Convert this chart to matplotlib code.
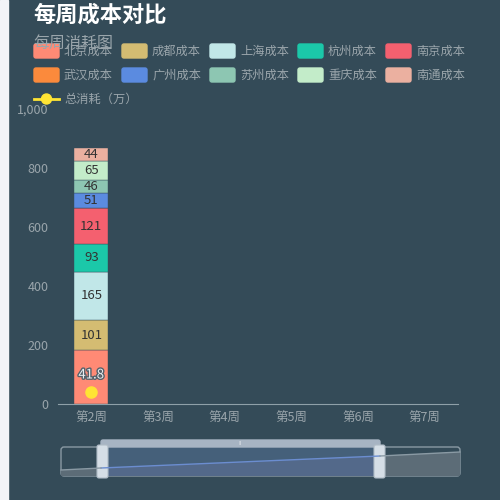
import numpy as np
import matplotlib
matplotlib.use("Agg")
from matplotlib import pyplot as plt
from matplotlib.patches import Rectangle, FancyBboxPatch, Circle, Polygon
from matplotlib.lines import Line2D
import matplotlib.patheffects as pe

plt.rcParams['font.family'] = ['Noto Sans CJK SC', 'DejaVu Sans']

# données
semaines = ["第2周", "第3周", "第4周", "第5周", "第6周", "第7周"]
nan = np.nan
villes = ["北京成本", "成都成本", "上海成本", "杭州成本", "南京成本",
          "武汉成本", "广州成本", "苏州成本", "重庆成本", "南通成本"]
beijing = [183, nan, nan, nan, nan, nan]
chengdu = [101, nan, nan, nan, nan, nan]
shanghai = [165, nan, nan, nan, nan, nan]
hangzhou = [93, nan, nan, nan, nan, nan]
nanjing = [121, nan, nan, nan, nan, nan]
wuhan = [0, nan, nan, nan, nan, nan]
guangzhou = [51, nan, nan, nan, nan, nan]
suzhou = [46, nan, nan, nan, nan, nan]
chongqing = [65, nan, nan, nan, nan, nan]
nantong = [44, nan, nan, nan, nan, nan]
total = [41.8, nan, nan, nan, nan, nan]

couleurs = ["#ff8a75", "#d4bc72", "#c1e7e8", "#1bc8a9", "#f4606f",
            "#fb8a3c", "#5b8be0", "#8dc6b2", "#c3ecc9", "#ebb0a0"]
fond = "#344b58"
gris = "#9aa5ab"

series = [beijing, chengdu, shanghai, hangzhou, nanjing,
          wuhan, guangzhou, suzhou, chongqing, nantong]

fig = plt.figure(figsize=(5, 5), dpi=100, facecolor=fond)

ax = fig.add_axes([58 / 500, 96 / 500, 400 / 500, 295 / 500])
ax.set_facecolor(fond)
x = np.arange(len(semaines))
bas = np.zeros(len(semaines))
for vals, c in zip(series, couleurs):
    v = np.array(vals, dtype=float)
    ax.bar(x, v, 0.51, bottom=bas, color=c, edgecolor=fond, linewidth=0.3)
    for i in range(len(x)):
        # le label du 1er segment est caché sous celui de la courbe
        if not np.isnan(v[i]) and v[i] > 0 and vals is not beijing:
            ax.text(x[i], bas[i] + v[i] / 2, f"{int(v[i])}", ha="center", va="center",
                    fontsize=9.5, color="#333333")
    bas = bas + np.nan_to_num(v)

ax.plot(x, total, color="#ffe434", marker="o", markersize=8, linewidth=2)
for i in range(len(x)):
    if not np.isnan(total[i]):
        ax.annotate(f"{total[i]}", (x[i], total[i]), xytext=(0, 12), textcoords="offset points",
                    ha="center", va="center", fontsize=9.5, color="#e8ecef",
                    path_effects=[pe.withStroke(linewidth=2, foreground="#55616a")])

ax.set_xlim(-0.5, 5.5)
ax.set_ylim(0, 1000)
ax.set_yticks([0, 200, 400, 600, 800, 1000])
ax.set_yticklabels(["0", "200", "400", "600", "800", "1,000"])
ax.set_xticks(x)
ax.set_xticklabels(semaines)
ax.tick_params(colors=gris, labelsize=9, length=0)
ax.tick_params(axis="x", pad=6)
ax.tick_params(axis="y", pad=7)
for s in ["top", "right", "left"]:
    ax.spines[s].set_visible(False)
ax.spines["bottom"].set_color("#8fa0a8")

# calque en pixels pour titre, légende, zoom
ov = fig.add_axes([0, 0, 1, 1])
ov.set_xlim(0, 500)
ov.set_ylim(500, 0)
ov.axis("off")
ov.patch.set_alpha(0)

ov.add_patch(Rectangle((0, 0), 8, 500, color="#f3f4f8"))
ov.text(33, 15, "每周成本对比", fontsize=16, fontweight="bold", color="white", va="center")
ov.text(33, 43, "每周消耗图", fontsize=11.5, color=gris, va="center")

for k, (nom, c) in enumerate(zip(villes, couleurs)):
    col, lig = k % 5, k // 5
    x0, y0 = 34 + 88 * col, 51 + 24 * lig
    ov.add_patch(FancyBboxPatch((x0 + 2, y0 - 5), 21, 10,
                                boxstyle="round,pad=2", color=c))
    ov.text(x0 + 30, y0, nom, fontsize=8.8, color=gris, va="center")
ov.add_line(Line2D([34, 59], [99, 99], color="#ffe434", linewidth=2))
ov.add_patch(Circle((46.5, 99), 5, color="#ffe434"))
ov.text(64, 99, "总消耗（万）", fontsize=8.8, color=gris, va="center")

# dataZoom
ov.add_patch(FancyBboxPatch((61, 447), 399, 29, boxstyle="round,pad=0,rounding_size=3",
                            facecolor="none", edgecolor="#8a9aa4", linewidth=1))
ov.add_patch(Polygon([(61, 476), (61, 470), (460, 452), (460, 476)], closed=True,
                     facecolor="#5c6c77", edgecolor="none"))
ov.add_patch(Rectangle((101, 447), 279, 29, facecolor="#45607a", edgecolor="none"))
ov.add_patch(Polygon([(101, 476), (101, 468), (380, 456), (380, 476)], closed=True,
                     facecolor="#53698a", edgecolor="none"))
ov.add_line(Line2D([101, 380], [468, 456], color="#6b8dd0", linewidth=1))
ov.add_line(Line2D([61, 101], [470, 468], color="#8a9aa4", linewidth=1))
ov.add_line(Line2D([380, 460], [456, 452], color="#8a9aa4", linewidth=1))
ov.add_patch(FancyBboxPatch((101, 440), 279, 7, boxstyle="round,pad=0,rounding_size=2",
                            color="#a7b4c3"))
ov.text(240.5, 443.5, "⁞⁞", fontsize=4, color="white", ha="center", va="center")
for hx in (97, 374):
    ov.add_patch(FancyBboxPatch((hx, 445), 11, 33, boxstyle="round,pad=0,rounding_size=2",
                                facecolor="#d5dee6", edgecolor="#b0bcc6", linewidth=0.8))

fig.savefig("out.png", dpi=100, facecolor=fond)
